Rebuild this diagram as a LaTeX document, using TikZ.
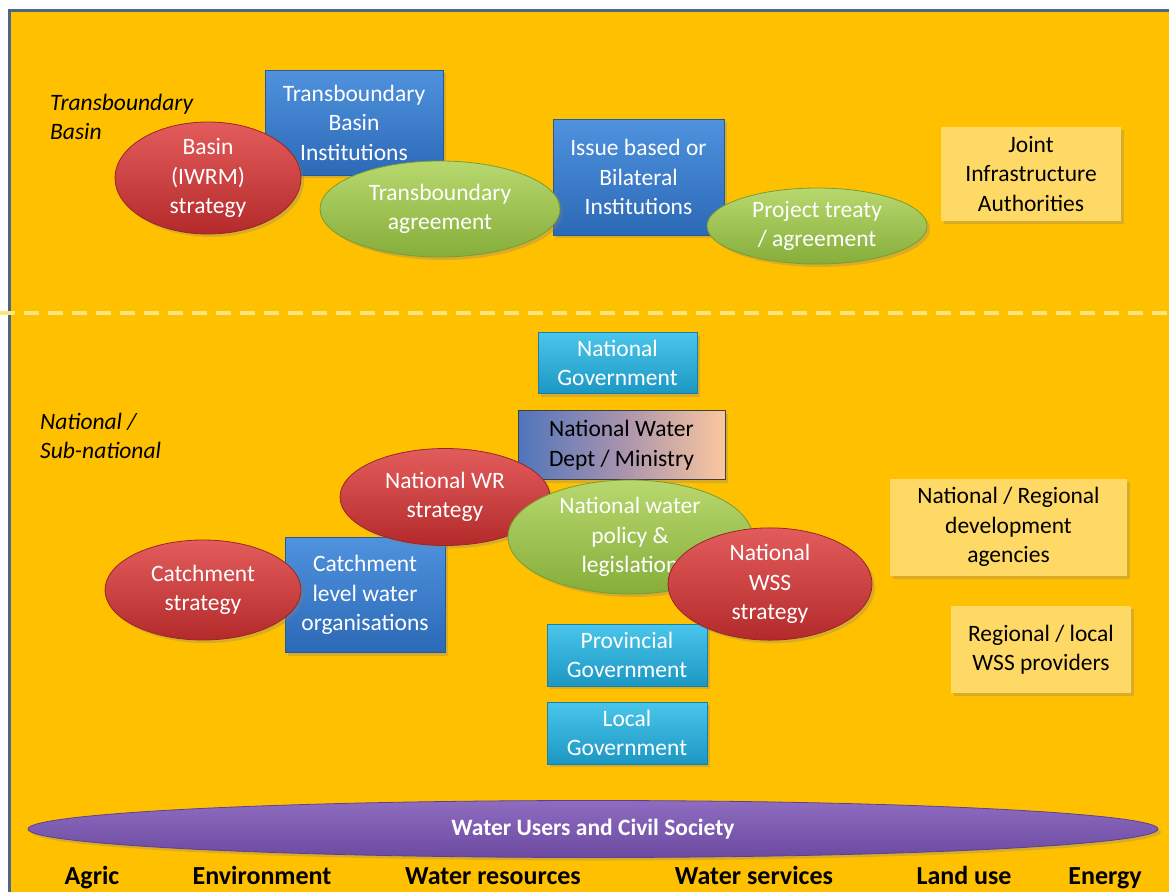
\documentclass[tikz,border=0pt]{standalone}
\usepackage{fontspec}
\setmainfont{Carlito}
\usetikzlibrary{shapes.geometric,shadows}

\definecolor{bgorange}{HTML}{FFC000}
\definecolor{framebl}{HTML}{4A6788}
\definecolor{dashyel}{HTML}{FFE57E}
\definecolor{redT}{HTML}{E35C5C}
\definecolor{redB}{HTML}{B42A2A}
\definecolor{redD}{HTML}{992626}
\definecolor{grnT}{HTML}{B8D86E}
\definecolor{grnB}{HTML}{86AD3A}
\definecolor{grnD}{HTML}{7A9C34}
\definecolor{bluT}{HTML}{4F92DD}
\definecolor{bluB}{HTML}{2C69B6}
\definecolor{bluD}{HTML}{285A96}
\definecolor{cyaT}{HTML}{4AC6EC}
\definecolor{cyaB}{HTML}{1C97C3}
\definecolor{cyaD}{HTML}{1A7EA6}
\definecolor{purT}{HTML}{8E6CC0}
\definecolor{purM}{HTML}{9F80CE}
\definecolor{purB}{HTML}{6C4AA0}
\definecolor{purD}{HTML}{5E4090}
\definecolor{paleyel}{HTML}{FFD966}
\definecolor{minL}{HTML}{4F75BC}
\definecolor{minM}{HTML}{A893AE}
\definecolor{minR}{HTML}{FBC79E}

\tikzset{
  txt/.style={font=\fontsize{23.5}{29.5}\selectfont, align=center, text=white, inner sep=0pt},
  soft/.style={drop shadow={opacity=0.3, shadow xshift=3pt, shadow yshift=-3pt}},
  bluebox/.style={txt, rectangle, soft, draw=bluD, line width=0.8pt, top color=bluT, bottom color=bluB},
  cyanbox/.style={txt, rectangle, soft, draw=cyaD, line width=0.8pt, top color=cyaT, bottom color=cyaB},
  yelbox/.style={txt, rectangle, soft, text=black, fill=paleyel},
  redell/.style={txt, ellipse, soft, draw=redD, line width=0.8pt, top color=redT, bottom color=redB},
  grnell/.style={txt, ellipse, soft, draw=grnD, line width=0.8pt, top color=grnT, bottom color=grnB},
  levellabel/.style={font=\fontsize{23.5}{29.5}\selectfont\itshape, align=left, anchor=west, inner sep=0pt},
  sector/.style={font=\fontsize{26}{30}\selectfont\bfseries, inner sep=0pt, anchor=base},
  dashline/.style={draw=dashyel, line width=4pt, dash pattern=on 15pt off 9pt}
}

\begin{document}
\begin{tikzpicture}[x=1pt, y=-1pt]
\useasboundingbox (0,0) rectangle (1169,891);
\clip (0,0) rectangle (1169,891);
\fill[white] (0,0) rectangle (1169,891);

% panel with frame
\draw[draw=framebl, line width=3pt, fill=bgorange] (9.5,10.5) rectangle (1180,900);

% separator between the two levels
\draw[dashline] (0,313) -- (1169,313);

% ---- transboundary level ----
\node[levellabel] (lvtb) at (50,117) {Transboundary\\Basin};

\node[bluebox, minimum width=178pt, minimum height=105pt] (tbi) at (354,122.5) {Transboundary\\Basin\\Institutions};
\node[redell, minimum width=186pt, minimum height=96pt] (basin) at (208,178) {Basin\\(IWRM)\\strategy};
\node[bluebox, minimum width=171pt, minimum height=116pt] (issue) at (638.5,177) {Issue based or\\Bilateral\\Institutions};
\node[grnell, minimum width=240pt, minimum height=96pt] (tba) at (440,209) {Transboundary\\agreement};
\node[grnell, minimum width=220pt, minimum height=76pt] (treaty) at (817,226) {Project treaty\\/ agreement};
\node[yelbox, minimum width=180pt, minimum height=94pt] (joint) at (1031,174) {Joint\\Infrastructure\\Authorities};

% ---- national / sub-national level ----
\node[levellabel] (lvnat) at (40,436) {National /\\Sub-national};

\node[cyanbox, minimum width=159pt, minimum height=61pt] (ngov) at (617.5,363) {National\\Government};
\node[txt, rectangle, soft, text=black, draw=black!75, line width=1pt,
      left color=minL, right color=minR, middle color=minM,
      minimum width=207pt, minimum height=69pt] (nwdm) at (621.5,445) {National Water\\Dept / Ministry};
\node[bluebox, minimum width=160pt, minimum height=115pt] (cwo) at (365,595) {Catchment\\level water\\organisations};
\node[cyanbox, minimum width=160pt, minimum height=62pt] (pgov) at (627,655) {Provincial\\Government};
\node[cyanbox, minimum width=160pt, minimum height=62pt] (lgov) at (627,733) {Local\\Government};

\node[redell, minimum width=210pt, minimum height=97pt] (nwr) at (445,497) {National WR\\strategy};
\node[grnell, minimum width=244pt, minimum height=114pt] (nwp) at (630,537) {National water\\policy \&\\legislation};
\node[redell, minimum width=204pt, minimum height=94pt] (wss) at (770,584) {National\\WSS\\strategy};
\node[redell, minimum width=196pt, minimum height=100pt] (catch) at (203,590) {Catchment\\strategy};

\node[yelbox, minimum width=237pt, minimum height=97pt] (nrda) at (1008.5,527) {National / Regional\\development\\agencies};
\node[yelbox, minimum width=180pt, minimum height=87pt] (rlwss) at (1041,649.5) {Regional / local\\WSS providers};

% ---- users and sectors ----
\node[txt, ellipse, soft, draw=purD, line width=0.8pt, top color=purT, middle color=purM, bottom color=purB,
      font=\fontsize{23.5}{28}\selectfont\bfseries,
      minimum width=1130pt, minimum height=57pt] (users) at (593,829) {Water Users and Civil Society};

\node[sector] (agric) at (92,884) {Agric};
\node[sector] (env) at (262,884) {Environment};
\node[sector] (wres) at (493,884) {Water resources};
\node[sector] (wserv) at (754,884) {Water services};
\node[sector] (land) at (964,884) {Land use};
\node[sector] (energy) at (1105,884) {Energy};
\end{tikzpicture}
\end{document}
